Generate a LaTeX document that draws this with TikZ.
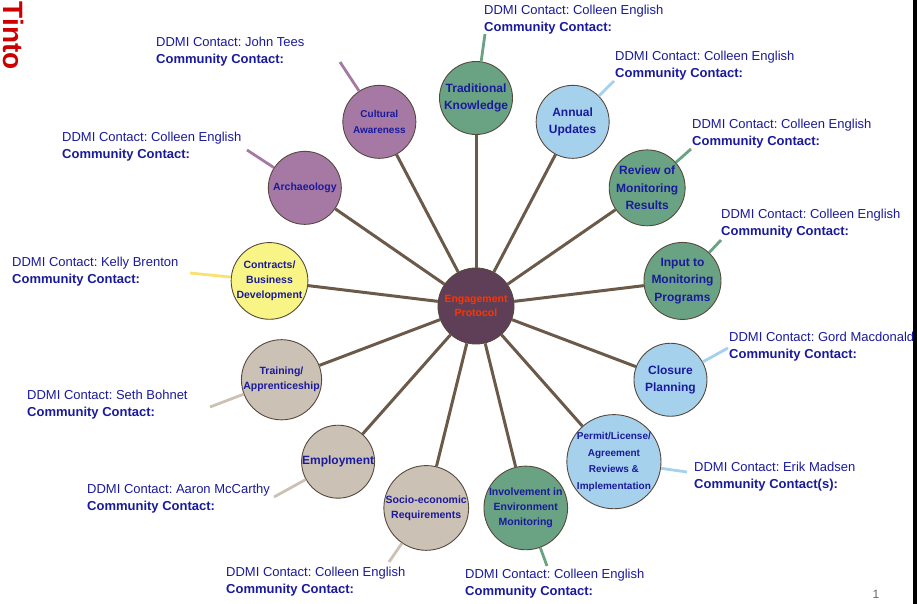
\documentclass[tikz,border=0pt]{standalone}
\usepackage{fontspec}
\setmainfont{Liberation Sans}
\usepackage{xcolor}
\definecolor{sage}{HTML}{6AA284}
\definecolor{plum}{HTML}{A679A5}
\definecolor{sky}{HTML}{A6D1EC}
\definecolor{lemon}{HTML}{F8F485}
\definecolor{sand}{HTML}{CCC1B5}
\definecolor{hubfill}{HTML}{5F3F57}
\definecolor{spoke}{HTML}{6B5A4A}
\definecolor{ink}{HTML}{1A1A9C}
\definecolor{hubtext}{HTML}{FF3300}
\definecolor{logo}{HTML}{CC0000}
\usetikzlibrary{positioning,calc}

\tikzset{
  topic/.style={circle,draw=spoke!80!black,line width=0.9pt,minimum size=73pt,inner sep=0pt,align=center,text=ink},
  bigtopic/.style={font=\bfseries\fontsize{12}{17.5}\selectfont},
  midtopic/.style={font=\bfseries\fontsize{10.5}{15}\selectfont},
  smalltopic/.style={font=\bfseries\fontsize{10}{16.5}\selectfont},
  hubnode/.style={circle,draw=spoke!80!black,line width=0.9pt,fill=hubfill,minimum size=76pt,inner sep=0pt,align=center,text=hubtext,font=\bfseries\fontsize{10.5}{14}\selectfont},
  contact/.style={anchor=north west,align=left,inner sep=0pt,text=ink,font=\fontsize{13}{16.5}\selectfont},
  ray/.style={spoke,line width=3pt},
  tag/.style={line width=2.8pt}
}

\begin{document}
\frenchspacing
\begin{tikzpicture}[x=1pt,y=-1pt]
  \useasboundingbox (0,0) rectangle (917,604);
  % hub
  \node[hubnode] (hub) at (476,306) {Engagement\\Protocol};
  % topics round the hub, clockwise from the top
  \foreach \i/\col/\fs/\txt in {
      0/sage/bigtopic/{Traditional\\Knowledge},
      1/sky/bigtopic/{Annual\\Updates},
      2/sage/bigtopic/{Review of\\Monitoring\\Results},
      3/sage/bigtopic/{Input to\\Monitoring\\Programs},
      4/sky/bigtopic/{Closure\\Planning},
      5/sky/smalltopic/{Permit/License/\\Agreement\\Reviews \&\\Implementation},
      6/sage/midtopic/{Involvement in\\Environment\\Monitoring},
      7/sand/midtopic/{Socio-economic\\Requirements},
      8/sand/bigtopic/{Employment},
      9/sand/midtopic/{Training/\\Apprenticeship},
      10/lemon/midtopic/{Contracts/\\Business\\Development},
      11/plum/midtopic/{Archaeology},
      12/plum/smalltopic/{Cultural\\Awareness}} {
    \pgfmathsetmacro{\a}{\i*360/13-90}
    \node[topic,fill=\col,\fs] (t\i) at ($(hub)+(\a:208)$) {\txt};
    \draw[ray] (hub) -- (t\i);
  }
  % contact labels
  \foreach \i/\col/\ex/\ey/\lx/\ly/\who/\cc in {
      0/sage/485/34/484/5/Colleen English/Contact,
      1/sky/614/81/615/51/Colleen English/Contact,
      2/sage/691/149/692/119/Colleen English/Contact,
      3/sage/721/240/721/209/Colleen English/Contact,
      4/sky/728/348/729/332/Gord Macdonald/Contact,
      5/sky/687/472/694/462/Erik Madsen/Contact(s),
      6/sage/547/566/465/569/Colleen English/Contact,
      7/sand/389/562/226/567/Colleen English/Contact,
      8/sand/274/497/87/484/Aaron McCarthy/Contact,
      9/sand/210/407/27/390/Seth Bohnet/Contact,
      10/lemon!85!orange/190/273/12/257/Kelly Brenton/Contact,
      11/plum/247/150/62/132/Colleen English/Contact,
      12/plum/340/62/156/37/John Tees/Contact} {
    \coordinate (e\i) at (\ex,\ey);
    \draw[tag,\col] (t\i) -- (e\i);
    \node[contact] (c\i) at (\lx,\ly) {DDMI Contact:\ \who\\\textbf{Community \cc:}};
  }
  % logo edge, page number and right margin bar
  \node[rotate=-90,anchor=base east,inner sep=0pt,text=logo,font=\bfseries\fontsize{28}{28}\selectfont] (logo) at (3,70) {Tinto};
  \node[text=black!60,font=\fontsize{12}{14}\selectfont] (page) at (876,594) {1};
  \fill[black] (913,0) rectangle (917,604);
\end{tikzpicture}
\end{document}
